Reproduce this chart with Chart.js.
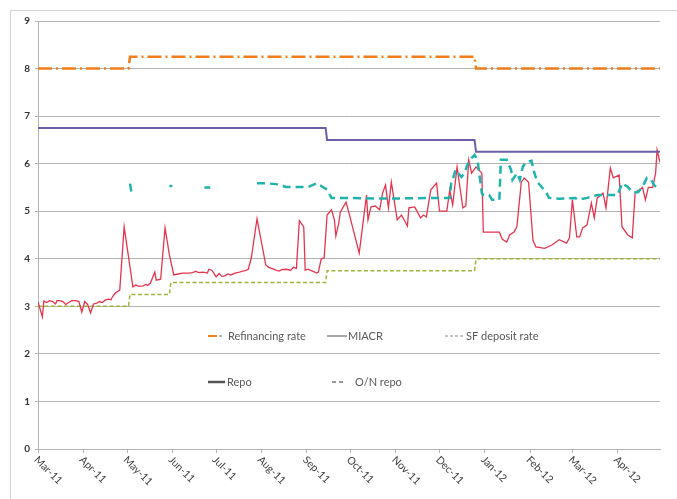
<!DOCTYPE html>
<html>
<head>
<meta charset="utf-8">
<script src="https://cdn.jsdelivr.net/npm/chart.js@4.4.1/dist/chart.umd.min.js"></script>
<style>
  body { margin: 0; background: #fff; }
  #wrap { position: relative; width: 677px; height: 499px; overflow: hidden; }
  #frame { position: absolute; left: 10px; top: 10px; width: 700px; height: 520px; border: 1px solid #d6d6d6; }
  canvas { position: absolute; left: 0; top: 0; }
</style>
</head>
<body>
<div id="wrap"><div id="frame"></div><canvas id="chart" width="677" height="499"></canvas></div>
<script>
// days counted from 1 Mar 2011
const monthDays = [0, 31, 61, 92, 122, 153, 184, 214, 245, 275, 306, 337, 366, 397];
const monthLabels = ['Mar-11', 'Apr-11', 'May-11', 'Jun-11', 'Jul-11', 'Aug-11', 'Sep-11',
                     'Oct-11', 'Nov-11', 'Dec-11', 'Jan-12', 'Feb-12', 'Mar-12', 'Apr-12'];

const refiDays = [0, 62, 63, 299, 300, 426];
const refiValues = [8, 8, 8.25, 8.25, 8, 8];

const sfDays = [0, 62, 63, 90, 91, 197, 198, 299, 300, 426];
const sfValues = [3, 3, 3.25, 3.25, 3.5, 3.5, 3.75, 3.75, 4, 4];

const repoDays = [0, 197, 198, 299, 300, 426];
const repoValues = [6.75, 6.75, 6.5, 6.5, 6.25, 6.25];

const miacr = [
  [0, 3.09], [3, 2.78], [4, 3.11], [6, 3.08], [8, 3.12], [10, 3.1], [12, 3.05], [13, 3.12],
  [15, 3.12], [17, 3.1], [19, 3.04], [21, 3.08], [23, 3.12], [26, 3.12], [28, 3.1], [30, 2.88],
  [32, 3.1], [34, 3.04], [36, 2.86], [38, 3.05], [40, 3.06], [42, 3.1], [44, 3.08], [46, 3.13],
  [48, 3.15], [50, 3.14], [51, 3.2], [53, 3.28], [56, 3.34], [59, 4.67], [65, 3.41], [67, 3.45],
  [69, 3.42], [72, 3.43], [74, 3.46], [75, 3.44], [77, 3.49], [80, 3.72], [81, 3.55], [84, 3.57],
  [87, 4.65], [90, 4.08], [93, 3.66], [96, 3.68], [99, 3.7], [103, 3.7], [106, 3.71], [108, 3.74],
  [110, 3.71], [113, 3.72], [116, 3.7], [117, 3.78], [119, 3.76], [120, 3.72], [122, 3.62],
  [124, 3.69], [126, 3.63], [128, 3.64], [130, 3.68], [132, 3.66], [135, 3.7], [138, 3.72],
  [140, 3.74], [142, 3.75], [144, 3.78], [146, 4.0], [150, 4.84], [156, 3.87], [158, 3.82],
  [160, 3.8], [163, 3.76], [165, 3.74], [167, 3.77], [170, 3.78], [173, 3.76], [175, 3.82],
  [177, 3.8], [179, 4.8], [182, 4.67], [183, 3.76], [185, 3.78], [188, 3.74], [191, 3.7],
  [192, 3.72], [194, 4.0], [196, 4.02], [198, 4.92], [201, 5.03],
  [203, 4.82], [204, 4.48], [206, 4.75], [207, 4.98], [211, 5.19], [213, 4.96], [220, 4.12],
  [225, 5.34], [226, 4.82], [228, 5.09], [231, 5.11], [234, 5.03], [236, 5.38], [238, 5.55],
  [240, 5.07], [242, 5.61], [246, 4.82], [249, 4.92], [253, 4.69], [254, 5.07], [258, 5.09],
  [262, 4.86], [264, 4.92], [266, 4.88], [269, 5.45], [273, 5.59], [275, 5.0], [280, 5.0],
  [282, 5.45], [284, 5.13], [287, 5.93], [291, 5.07], [293, 5.11], [295, 6.08], [297, 5.8],
  [300, 5.93], [304, 5.8], [305, 4.56], [316, 4.56], [318, 4.41], [321, 4.35], [323, 4.5],
  [326, 4.56], [328, 4.67], [331, 5.61], [333, 5.7], [336, 5.61], [339, 4.39], [341, 4.25],
  [347, 4.22], [352, 4.29], [357, 4.4], [362, 4.33], [364, 4.44], [366, 5.24], [369, 4.46],
  [371, 4.46], [373, 4.65], [376, 4.71], [379, 5.17], [381, 4.86], [383, 5.28], [387, 5.38],
  [389, 5.07], [392, 5.91], [394, 5.7], [398, 5.76], [400, 4.67], [404, 4.5], [407, 4.44],
  [409, 5.4], [412, 5.45], [414, 5.5], [416, 5.24], [418, 5.5], [421, 5.5], [423, 5.8],
  [424, 6.29], [426, 6.03]
];

// null = no auction that day (gap in the line)
const onRepo = [
  [63, 5.58], [64, 5.4], [65, null], [90, 5.53], [92, 5.53], [93, null], [114, 5.5], [118, 5.5],
  [119, null], [150, 5.59], [155, 5.59], [163, 5.57], [170, 5.51], [177, 5.51], [185, 5.51],
  [191, 5.59], [198, 5.45], [201, 5.28], [208, 5.28], [230, 5.27], [250, 5.27], [270, 5.28],
  [282, 5.28], [283, 5.59], [284, 5.66], [286, 5.87], [290, 5.72], [292, 5.8], [294, 5.97],
  [297, 6.12], [299, 6.18], [301, 6.08], [304, 5.38], [305, 5.34], [309, 5.34], [311, 5.24],
  [316, 5.24], [317, 6.08], [321, 6.08], [324, 5.87], [325, 5.66], [328, 5.8], [330, 5.66],
  [332, 5.93], [334, 6.03], [338, 6.06], [340, 5.8], [342, 5.61], [345, 5.51], [348, 5.4],
  [350, 5.28], [357, 5.26], [368, 5.28], [370, 5.24], [376, 5.28], [383, 5.34], [390, 5.34],
  [397, 5.34], [400, 5.59], [404, 5.51], [407, 5.4], [411, 5.4], [414, 5.51], [417, 5.7],
  [420, 5.66], [422, 5.55], [424, 5.49], [426, 5.45]
];

function toPoints(days, values) {
  return days.map((d, i) => ({ x: d, y: values[i] }));
}
function pairPoints(pairs) {
  return pairs.map(p => ({ x: p[0], y: p[1] }));
}

const gridColor = '#b4b4b4';

// month labels run down to the right, like the spreadsheet chart
const monthLabelPlugin = {
  id: 'monthLabels',
  afterDraw(chart) {
    const ctx = chart.ctx;
    const x = chart.scales.x;
    const bottom = chart.chartArea.bottom;
    ctx.save();
    ctx.font = '10.5px Lato';
    ctx.fillStyle = '#404040';
    ctx.textAlign = 'left';
    ctx.textBaseline = 'middle';
    monthDays.forEach((d, i) => {
      const px = x.getPixelForValue(d);
      ctx.save();
      ctx.translate(px - 2, bottom + 9);
      ctx.rotate(Math.PI / 4);
      ctx.fillText(monthLabels[i], 0, 0);
      ctx.restore();
    });
    ctx.restore();
  }
};

// legend sits inside the plot in two rows
const legendPlugin = {
  id: 'innerLegend',
  afterDraw(chart) {
    const ctx = chart.ctx;
    const r1 = 336, r2 = 382;
    function seg(x1, x2, y, color, w, dash) {
      ctx.beginPath();
      ctx.setLineDash(dash || []);
      ctx.strokeStyle = color;
      ctx.lineWidth = w;
      ctx.moveTo(x1, y);
      ctx.lineTo(x2, y);
      ctx.stroke();
    }
    ctx.save();
    seg(208, 217, r1, '#f07c1c', 2);
    seg(219, 222, r1, '#a0a0a0', 1.5);
    seg(327, 347, r1, '#555', 1);
    seg(445, 465, r1, '#888', 1, [3, 2]);
    seg(208, 225, r2, '#555', 2.5);
    seg(332, 336, r2, '#777', 1.5);
    seg(339, 343, r2, '#777', 1.5);
    ctx.setLineDash([]);
    ctx.font = '11px Lato';
    ctx.fillStyle = '#595959';
    ctx.textBaseline = 'middle';
    ctx.fillText('Refinancing rate', 228, r1);
    ctx.fillText('MIACR', 348, r1);
    ctx.fillText('SF deposit rate', 466, r1);
    ctx.fillText('Repo', 227, r2);
    ctx.fillText('O/N repo', 355, r2);
    ctx.restore();
  }
};

new Chart(document.getElementById('chart').getContext('2d'), {
  type: 'line',
  data: {
    datasets: [
      {
        label: 'Refinancing rate',
        data: toPoints(refiDays, refiValues),
        borderColor: '#f07c1c',
        borderWidth: 2.5,
        borderDash: [14, 4, 2, 4]
      },
      {
        label: 'O/N repo',
        data: pairPoints(onRepo),
        borderColor: '#1fb3ab',
        borderWidth: 2.5,
        borderDash: [8, 5],
        spanGaps: false
      },
      {
        label: 'Repo',
        data: toPoints(repoDays, repoValues),
        borderColor: '#6e5ea9',
        borderWidth: 2
      },
      {
        label: 'MIACR',
        data: pairPoints(miacr),
        borderColor: '#e3354f',
        borderWidth: 1.3
      },
      {
        label: 'SF deposit rate',
        data: toPoints(sfDays, sfValues),
        borderColor: '#9bb53c',
        borderWidth: 1.5,
        borderDash: [4, 2.5]
      }
    ]
  },
  options: {
    responsive: false,
    animation: false,
    elements: { point: { radius: 0 }, line: { tension: 0 } },
    layout: { padding: { left: 0, top: 21, right: 17, bottom: 0 } },
    plugins: { legend: { display: false }, tooltip: { enabled: false } },
    scales: {
      x: {
        type: 'linear',
        min: 0,
        max: 426,
        afterBuildTicks: scale => { scale.ticks = monthDays.map(v => ({ value: v })); },
        afterFit: scale => { scale.height = 50; },
        ticks: { display: false },
        grid: { drawOnChartArea: false, drawTicks: true, tickLength: 4, color: gridColor },
        border: { color: gridColor }
      },
      y: {
        min: 0,
        max: 9,
        afterFit: scale => { scale.width = 38; },
        ticks: {
          stepSize: 1,
          padding: 5,
          color: '#333',
          font: { family: 'Lato', size: 10, weight: 'bold' }
        },
        grid: { color: gridColor, tickLength: 3 },
        border: { color: gridColor }
      }
    }
  },
  plugins: [monthLabelPlugin, legendPlugin]
});
</script>
</body>
</html>
